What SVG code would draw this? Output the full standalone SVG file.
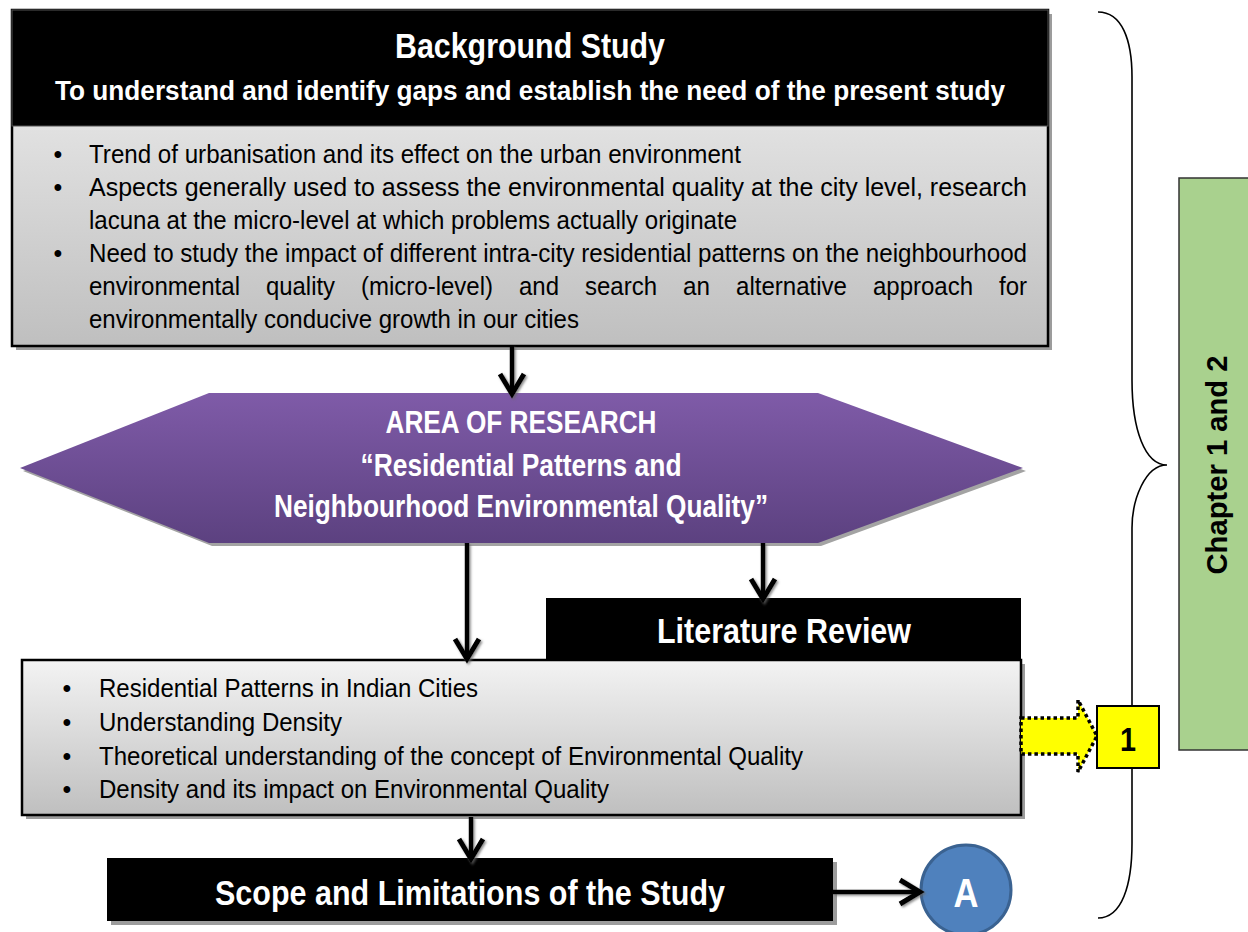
<svg xmlns="http://www.w3.org/2000/svg" width="1248" height="932" viewBox="0 0 1248 932">
  <style>
    .hdr { fill: #000; }
    .shadow { fill: #9c9c9c; }
    .body { fill: url(#grayFill); stroke: #000; stroke-width: 2.5; }
    .t { font-family: "Liberation Sans", Arial, sans-serif; }
    .b { font-family: "Liberation Sans", Arial, sans-serif; font-weight: bold; }
    .w { fill: #fff; }
    .k { fill: #000; }
    .txt { font-size: 26.5px; fill: #000; }
    .bul { font-size: 25px; fill: #000; text-anchor: middle; }
    .mid { text-anchor: middle; }
    .conn { stroke: #000; stroke-width: 4.5; fill: none; marker-end: url(#chev); }
  </style>
  <defs>
    <linearGradient id="grayFill" x1="0" y1="0" x2="0" y2="1">
      <stop offset="0" stop-color="#f3f3f3"/>
      <stop offset="1" stop-color="#bfbfbf"/>
    </linearGradient>
    <linearGradient id="purpleFill" x1="0" y1="0" x2="0" y2="1">
      <stop offset="0" stop-color="#7f5ba8"/>
      <stop offset="1" stop-color="#5c4180"/>
    </linearGradient>
    <marker id="chev" markerUnits="userSpaceOnUse" viewBox="-24 -16 28 32" markerWidth="28" markerHeight="32" refX="-2" refY="0" orient="auto" overflow="visible">
      <path d="M-20,-12 L0,0 L-20,12" fill="none" stroke="#000" stroke-width="5"/>
    </marker>
    <filter id="soft" x="-20%" y="-20%" width="140%" height="140%">
      <feDropShadow dx="1.5" dy="1.5" stdDeviation="0.9" flood-color="#666" flood-opacity="0.75"/>
    </filter>
  </defs>

  <!-- Brace spanning chapters 1 and 2 -->
  <g id="brace">
    <path d="M1098,12 C1122,12 1132,40 1132,77 L1132,380 C1132,430 1145,465 1167,465 C1145,465 1132,500 1132,528 L1132,843 C1132,885 1122,918 1098,918" fill="none" stroke="#000" stroke-width="1.6"/>
  </g>

  <!-- Background study block -->
  <g id="background-study">
    <rect class="shadow" x="16" y="14" width="1036" height="336"/>
    <rect class="body" x="12" y="10" width="1036" height="336"/>
    <rect class="hdr" x="12" y="10" width="1036" height="116" stroke="#555" stroke-width="1"/>
    <text class="b w mid" x="530" y="58" font-size="35" textLength="270" lengthAdjust="spacingAndGlyphs">Background Study</text>
    <text class="b w mid" x="530" y="100" font-size="28.5" textLength="950" lengthAdjust="spacingAndGlyphs">To understand and identify gaps and establish the need of the present study</text>
    <g class="t">
      <text class="bul" x="58" y="163">•</text>
      <text class="txt" x="89" y="163" textLength="652" lengthAdjust="spacingAndGlyphs">Trend of urbanisation and its effect on the urban environment</text>
      <text class="bul" x="58" y="196">•</text>
      <text class="txt" x="89" y="196" textLength="938" lengthAdjust="spacingAndGlyphs">Aspects generally used to assess the environmental quality at the city level, research</text>
      <text class="txt" x="89" y="229" textLength="648" lengthAdjust="spacingAndGlyphs">lacuna at the micro-level at which problems actually originate</text>
      <text class="bul" x="58" y="262">•</text>
      <text class="txt" x="89" y="262" textLength="938" lengthAdjust="spacingAndGlyphs">Need to study the impact of different intra-city residential patterns on the neighbourhood</text>
      <g class="txt">
        <text x="89" y="295" textLength="151" lengthAdjust="spacingAndGlyphs">environmental</text>
        <text x="266" y="295" textLength="69" lengthAdjust="spacingAndGlyphs">quality</text>
        <text x="361" y="295" textLength="132" lengthAdjust="spacingAndGlyphs">(micro-level)</text>
        <text x="519" y="295" textLength="40" lengthAdjust="spacingAndGlyphs">and</text>
        <text x="585" y="295" textLength="72" lengthAdjust="spacingAndGlyphs">search</text>
        <text x="683" y="295" textLength="27" lengthAdjust="spacingAndGlyphs">an</text>
        <text x="736" y="295" textLength="111" lengthAdjust="spacingAndGlyphs">alternative</text>
        <text x="873" y="295" textLength="100" lengthAdjust="spacingAndGlyphs">approach</text>
        <text x="999" y="295" textLength="28" lengthAdjust="spacingAndGlyphs">for</text>
      </g>
      <text class="txt" x="89" y="328" textLength="490" lengthAdjust="spacingAndGlyphs">environmentally conducive growth in our cities</text>
    </g>
  </g>

  <!-- Area of research -->
  <g id="area-of-research">
    <polygon points="23,471 212,396 821,396 1026,471 821,546 212,546" fill="#a3a3a3"/>
    <polygon points="20,468 209,393 818,393 1023,468 818,543 209,543" fill="url(#purpleFill)"/>
    <text class="b w mid" x="521" y="433" font-size="30.5" textLength="271" lengthAdjust="spacingAndGlyphs">AREA OF RESEARCH</text>
    <text class="b w mid" x="521" y="476" font-size="30.5" textLength="321" lengthAdjust="spacingAndGlyphs">“Residential Patterns and</text>
    <text class="b w mid" x="521" y="517" font-size="30.5" textLength="494" lengthAdjust="spacingAndGlyphs">Neighbourhood Environmental Quality”</text>
  </g>

  <!-- Literature review -->
  <g id="literature-review">
    <rect class="shadow" x="26" y="664" width="999" height="155"/>
    <rect class="body" x="22" y="660" width="999" height="155"/>
    <rect class="hdr" x="546" y="598" width="475" height="62"/>
    <text class="b w mid" x="784" y="643" font-size="35" textLength="254" lengthAdjust="spacingAndGlyphs">Literature Review</text>
    <g class="t">
      <text class="bul" x="67" y="697">•</text>
      <text class="txt" x="99" y="697" textLength="379" lengthAdjust="spacingAndGlyphs">Residential Patterns in Indian Cities</text>
      <text class="bul" x="67" y="731">•</text>
      <text class="txt" x="99" y="731" textLength="243" lengthAdjust="spacingAndGlyphs">Understanding Density</text>
      <text class="bul" x="67" y="765">•</text>
      <text class="txt" x="99" y="765" textLength="704" lengthAdjust="spacingAndGlyphs">Theoretical understanding of the concept of Environmental Quality</text>
      <text class="bul" x="67" y="798">•</text>
      <text class="txt" x="99" y="798" textLength="510" lengthAdjust="spacingAndGlyphs">Density and its impact on Environmental Quality</text>
    </g>
  </g>

  <!-- Scope and limitations -->
  <g id="scope-limitations">
    <rect class="shadow" x="111" y="862" width="726" height="63"/>
    <rect class="hdr" x="107" y="858" width="726" height="63"/>
    <text class="b w mid" x="470" y="905" font-size="35" textLength="510" lengthAdjust="spacingAndGlyphs">Scope and Limitations of the Study</text>
  </g>

  <!-- Continuation marker A -->
  <g id="marker-a">
    <circle cx="966" cy="890" r="45" fill="#4f81bd" stroke="#3a6291" stroke-width="3"/>
    <text class="b w mid" x="966" y="907" font-size="40" textLength="25" lengthAdjust="spacingAndGlyphs">A</text>
  </g>

  <!-- Chapter label -->
  <g id="chapter-label">
    <rect x="1179" y="178" width="80" height="572" fill="#a9d18e" stroke="#333" stroke-width="1.5"/>
    <text class="b k mid" x="1227" y="465" font-size="29" textLength="219" lengthAdjust="spacingAndGlyphs" transform="rotate(-90 1227 465)">Chapter 1 and 2</text>
  </g>

  <!-- Pointer to item 1 -->
  <g id="pointer-1">
    <path d="M1021,718 H1078 V700 L1097,736 L1078,772 V754 H1021 Z" fill="#ffff00" stroke="#000" stroke-width="3.5" stroke-dasharray="3.5 3"/>
    <rect x="1097" y="706" width="62" height="62" fill="#ffff00" stroke="#000" stroke-width="2"/>
    <text class="b k mid" x="1128" y="751" font-size="33" textLength="16" lengthAdjust="spacingAndGlyphs">1</text>
  </g>

  <!-- Connectors -->
  <g id="connectors" filter="url(#soft)">
    <path class="conn" d="M512,346 V392"/>
    <path class="conn" d="M467,543 V657"/>
    <path class="conn" d="M763,543 V597"/>
    <path class="conn" d="M471,817 V857"/>
    <path class="conn" d="M833,892 H918"/>
  </g>
</svg>
